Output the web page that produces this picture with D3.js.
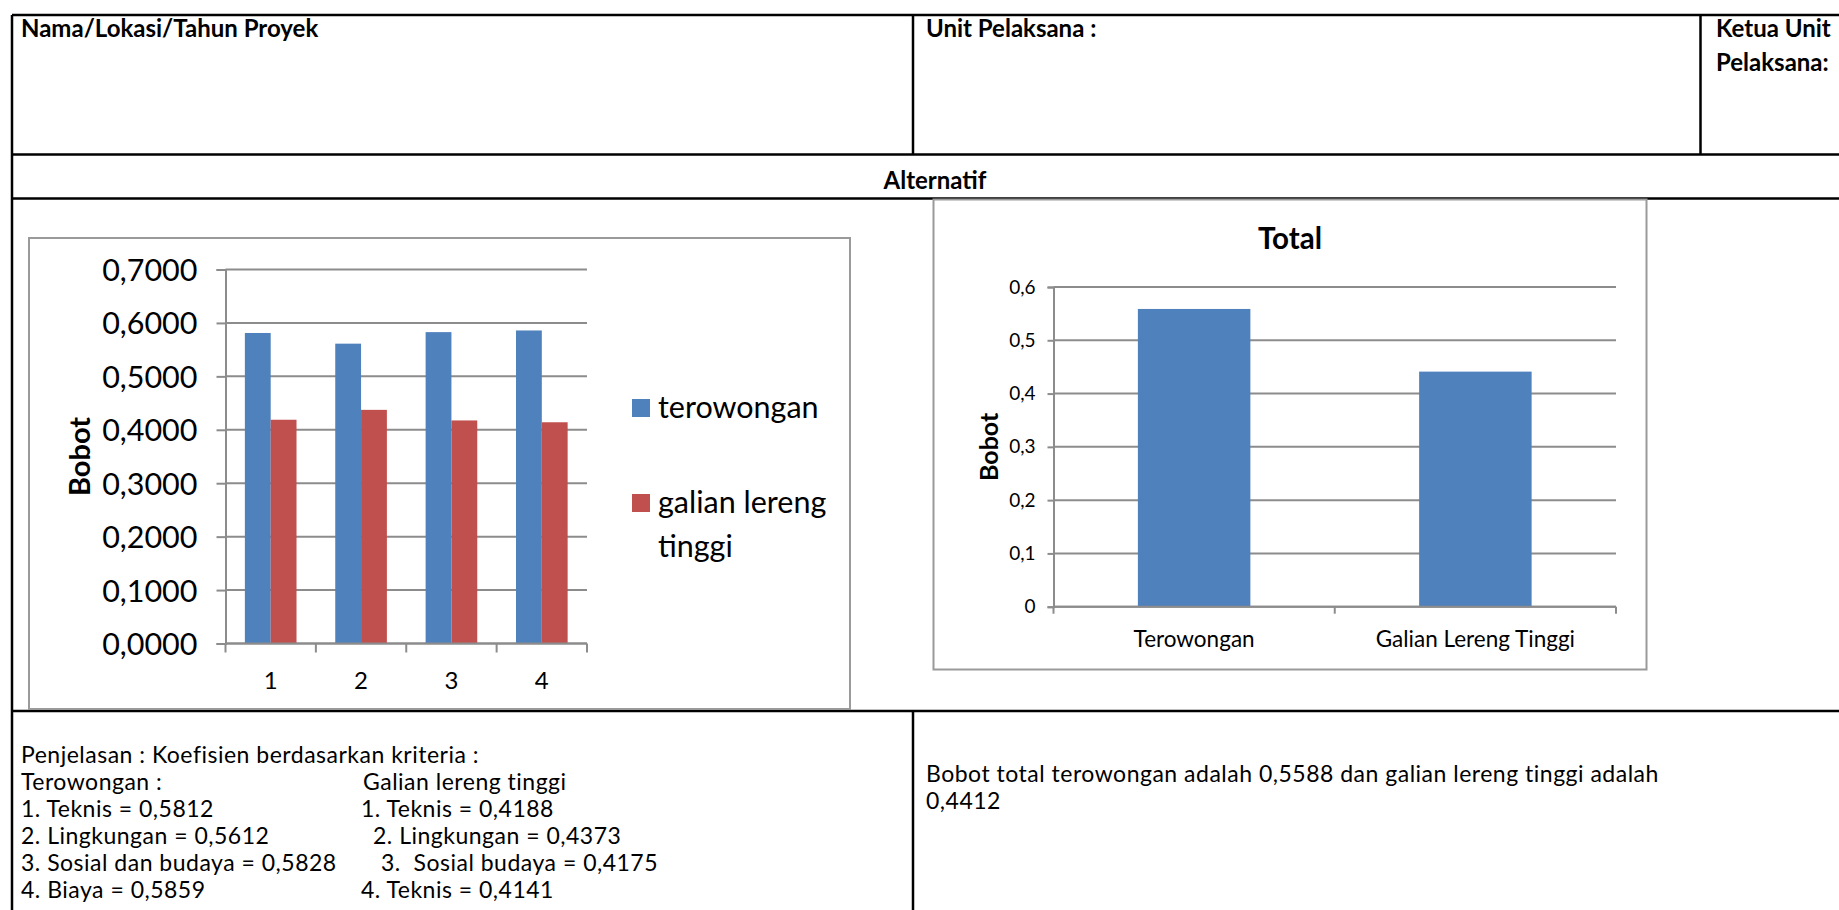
<!DOCTYPE html>
<html>
<head>
<meta charset="utf-8">
<script src="https://cdn.jsdelivr.net/npm/d3@7"></script>
<style>
  body { margin: 0; background: #fff; }
  svg { display: block; }
  text { font-family: Lato, "Open Sans", sans-serif; fill: #000; }
</style>
</head>
<body>
<svg id="page" width="1839" height="910"></svg>
<script>
// ---- data ----
const criteria = ["1", "2", "3", "4"];
const seriesNames = ["terowongan", "galian lereng tinggi"];
const terowongan = [0.5812, 0.5612, 0.5828, 0.5859];
const galianLereng = [0.4188, 0.4373, 0.4175, 0.4141];
const criteriaTicks = [0, 0.1, 0.2, 0.3, 0.4, 0.5, 0.6, 0.7];

const totalCategories = ["Terowongan", "Galian Lereng Tinggi"];
const totalValues = [0.5588, 0.4412];
const totalTicks = [0, 0.1, 0.2, 0.3, 0.4, 0.5, 0.6];

const colors = ["#4F81BD", "#C0504D"];

// comma decimal separator (Indonesian)
const idLocale = d3.formatLocale({ decimal: ",", thousands: ".", grouping: [3], currency: ["Rp", ""] });
const fmt4 = idLocale.format(".4f");
const fmt1 = idLocale.format(".1~f");

const svg = d3.select("#page");

// ---- form table ----
const table = svg.append("g").attr("stroke", "#000").attr("stroke-width", 2.5);
const hLines = [[12, 1845, 15], [12, 1845, 154.5], [12, 1845, 198.5], [12, 1845, 711]];
hLines.forEach(([x1, x2, y]) => table.append("line").attr("x1", x1).attr("x2", x2).attr("y1", y).attr("y2", y));
const vLines = [[12, 15, 910], [913, 15, 154.5], [1700.5, 15, 154.5], [913, 711, 910]];
vLines.forEach(([x, y1, y2]) => table.append("line").attr("x1", x).attr("x2", x).attr("y1", y1).attr("y2", y2));

const bold = { "font-weight": 700, "font-size": "24px" };
function label(x, y, s, attrs) {
  const t = svg.append("text").attr("x", x).attr("y", y).text(s);
  Object.entries(attrs || {}).forEach(([k, v]) => t.style(k, v));
  return t;
}
label(21, 37, "Nama/Lokasi/Tahun Proyek", bold);
label(926, 37, "Unit Pelaksana :", bold);
label(1716, 37, "Ketua Unit", bold);
label(1716, 71, "Pelaksana:", bold);
label(935, 189, "Alternatif", bold).attr("text-anchor", "middle");

const body = { "font-size": "23px", "letter-spacing": "0.5px" };
label(21, 763, "Penjelasan : Koefisien berdasarkan kriteria :", body);
label(21, 790, "Terowongan :", body);
label(363, 790, "Galian lereng tinggi", body);
const leftNames = ["Teknis", "Lingkungan", "Sosial dan budaya", "Biaya"];
const rightNames = ["Teknis", "Lingkungan", " Sosial budaya", "Teknis"];
const rightX = [361, 373, 381, 361];
leftNames.forEach((n, i) => {
  label(21, 817 + 27 * i, `${i + 1}. ${n} = ${fmt4(terowongan[i])}`, body);
  label(rightX[i], 817 + 27 * i, `${i + 1}. ${rightNames[i]} = ${fmt4(galianLereng[i])}`, body)
    .attr("xml:space", "preserve");
});
label(926, 782, `Bobot total terowongan adalah ${fmt4(totalValues[0])} dan galian lereng tinggi adalah`, body);
label(926, 809, fmt4(totalValues[1]), body);

// ---- chart 1: weights per criterion ----
const c1 = svg.append("g");
c1.append("rect").attr("x", 29).attr("y", 238).attr("width", 821).attr("height", 471)
  .attr("fill", "#fff").attr("stroke", "#9a9a9a").attr("stroke-width", 2);

const x0 = d3.scaleBand().domain(criteria).range([225.5, 587]).paddingInner(0).paddingOuter(0);
const x1 = d3.scaleBand().domain(seriesNames).range([0, x0.bandwidth()]).paddingInner(0).paddingOuter(0.75);
const y1 = d3.scaleLinear().domain([0, 0.7]).range([643.5, 269.5]);

c1.append("g").selectAll("line").data(criteriaTicks).join("line")
  .attr("x1", 225.5).attr("x2", 587).attr("y1", d => y1(d)).attr("y2", d => y1(d))
  .attr("stroke", "#8c8c8c").attr("stroke-width", 2);

const seriesData = [terowongan, galianLereng];
criteria.forEach((c, i) => {
  c1.append("g").selectAll("rect").data(seriesNames).join("rect")
    .attr("x", s => x0(c) + x1(s))
    .attr("width", x1.bandwidth())
    .attr("y", (s, j) => y1(seriesData[j][i]))
    .attr("height", (s, j) => y1(0) - y1(seriesData[j][i]))
    .attr("fill", (s, j) => colors[j]);
});

const yAx1 = c1.append("g").attr("transform", "translate(225.5,0)")
  .call(d3.axisLeft(y1).tickValues(criteriaTicks).tickSize(9).tickPadding(19).tickFormat(fmt4));
yAx1.select(".domain").attr("stroke", "#8c8c8c").attr("stroke-width", 2);
yAx1.selectAll(".tick line").attr("stroke", "#8c8c8c").attr("stroke-width", 2);
yAx1.selectAll(".tick text").style("font-family", "Lato, sans-serif").style("font-size", "30.5px").attr("dy", "0.36em");

const xAx1 = c1.append("g").attr("transform", `translate(0,${y1(0)})`);
xAx1.append("line").attr("x1", 225.5).attr("x2", 587).attr("stroke", "#8c8c8c").attr("stroke-width", 2);
xAx1.selectAll("line.b").data([...criteria.map(c => x0(c)), x0.range()[1]]).join("line").attr("class", "b")
  .attr("x1", d => d).attr("x2", d => d).attr("y1", 0).attr("y2", 9)
  .attr("stroke", "#8c8c8c").attr("stroke-width", 2);
xAx1.selectAll("text").data(criteria).join("text")
  .attr("x", c => x0(c) + x0.bandwidth() / 2).attr("y", 45)
  .attr("text-anchor", "middle").style("font-size", "24px").text(c => c);

c1.append("text").attr("transform", `translate(80,${(y1(0) + y1(0.7)) / 2}) rotate(-90)`)
  .attr("text-anchor", "middle").attr("dy", "0.35em")
  .style("font-weight", 700).style("font-size", "29px").text("Bobot");

const legend = c1.append("g");
const legendRows = [{ y: 399, lines: ["terowongan"] }, { y: 494, lines: ["galian lereng", "tinggi"] }];
legendRows.forEach((r, j) => {
  legend.append("rect").attr("x", 632).attr("y", r.y).attr("width", 18).attr("height", 18).attr("fill", colors[j]);
  r.lines.forEach((l, k) => legend.append("text").attr("x", 658).attr("y", r.y + 19 + k * 44)
    .style("font-size", "30.5px").text(l));
});

// ---- chart 2: total weights ----
const c2 = svg.append("g");
c2.append("rect").attr("x", 933.5).attr("y", 199.5).attr("width", 713).attr("height", 470)
  .attr("fill", "#fff").attr("stroke", "#9a9a9a").attr("stroke-width", 2);

const xt = d3.scaleBand().domain(totalCategories).range([1053.5, 1616]).paddingInner(0.6).paddingOuter(0.3);
const xtBounds = d3.scaleBand().domain(totalCategories).range([1053.5, 1616]);
const yt = d3.scaleLinear().domain([0, 0.6]).range([606.7, 287]);

c2.append("g").selectAll("line").data(totalTicks).join("line")
  .attr("x1", 1053.5).attr("x2", 1616).attr("y1", d => yt(d)).attr("y2", d => yt(d))
  .attr("stroke", "#8c8c8c").attr("stroke-width", 2);

c2.append("g").selectAll("rect").data(totalCategories).join("rect")
  .attr("x", c => xt(c)).attr("width", xt.bandwidth())
  .attr("y", (c, i) => yt(totalValues[i])).attr("height", (c, i) => yt(0) - yt(totalValues[i]))
  .attr("fill", colors[0]);

const yAx2 = c2.append("g").attr("transform", "translate(1053.5,0)")
  .call(d3.axisLeft(yt).tickValues(totalTicks).tickSize(6).tickPadding(12).tickFormat(fmt1));
yAx2.select(".domain").attr("stroke", "#8c8c8c").attr("stroke-width", 2);
yAx2.selectAll(".tick line").attr("stroke", "#8c8c8c").attr("stroke-width", 2);
yAx2.selectAll(".tick text").style("font-family", "Lato, sans-serif").style("font-size", "19px");

const xAx2 = c2.append("g").attr("transform", `translate(0,${yt(0)})`);
xAx2.append("line").attr("x1", 1053.5).attr("x2", 1616).attr("stroke", "#8c8c8c").attr("stroke-width", 2);
xAx2.selectAll("line.b").data([...totalCategories.map(c => xtBounds(c)), xtBounds.range()[1]]).join("line").attr("class", "b")
  .attr("x1", d => d).attr("x2", d => d).attr("y1", 0).attr("y2", 7)
  .attr("stroke", "#8c8c8c").attr("stroke-width", 2);
xAx2.selectAll("text").data(totalCategories).join("text")
  .attr("x", c => xtBounds(c) + xtBounds.bandwidth() / 2).attr("y", 40)
  .attr("text-anchor", "middle").style("font-size", "22.5px").text(c => c);

c2.append("text").attr("x", 1290).attr("y", 249).attr("text-anchor", "middle")
  .style("font-weight", 700).style("font-size", "29.5px").text("Total");
c2.append("text").attr("transform", `translate(989,${(yt(0) + yt(0.6)) / 2}) rotate(-90)`)
  .attr("text-anchor", "middle").attr("dy", "0.35em")
  .style("font-weight", 700).style("font-size", "25px").text("Bobot");
</script>
</body>
</html>
